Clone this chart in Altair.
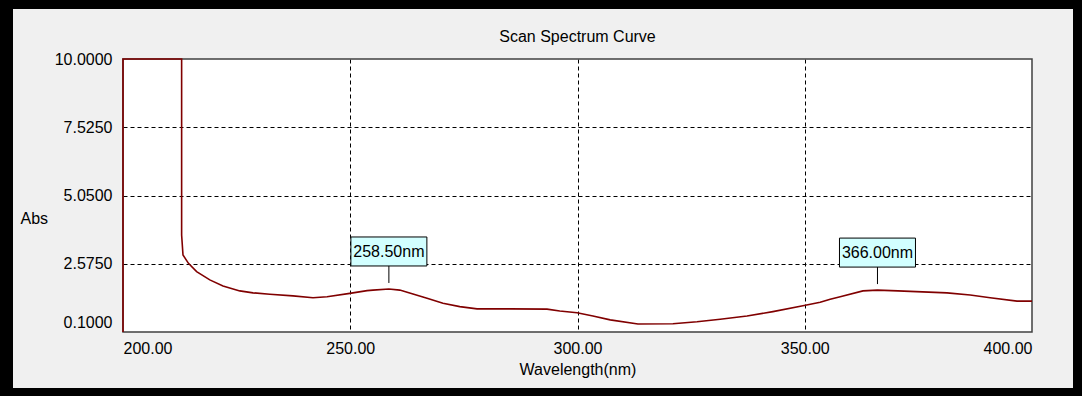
import altair as alt
import pandas as pd

# Scan spectrum: absorbance against wavelength (nm)
wavelength = [200.0, 200.0, 212.9, 212.9, 213.2, 214.4, 216.2, 219.1, 222.0,
              225.7, 228.6, 232.3, 237.4, 241.8, 244.9, 249.9, 253.7, 255.0,
              258.5, 260.9, 263.8, 266.9, 270.4, 274.1, 277.9, 285.1, 293.3,
              296.1, 299.9, 303.4, 307.2, 313.3, 321.0, 326.3, 331.4, 337.3,
              343.0, 349.6, 353.4, 355.6, 357.8, 362.8, 366.0, 370.5, 381.3,
              386.4, 390.8, 396.7, 400.0]
absorbance = [0.10, 10.0, 10.0, 3.62, 2.89, 2.59, 2.29, 1.99, 1.77,
              1.59, 1.52, 1.47, 1.41, 1.34, 1.38, 1.50, 1.60, 1.62,
              1.66, 1.62, 1.48, 1.32, 1.14, 1.02, 0.94, 0.94, 0.93,
              0.86, 0.80, 0.68, 0.54, 0.39, 0.40, 0.47, 0.56, 0.68,
              0.84, 1.05, 1.18, 1.29, 1.38, 1.59, 1.62, 1.59, 1.52,
              1.44, 1.34, 1.22, 1.22]

# Marked peaks
peak_wl = [258.5, 366.0]
peak_abs = [1.66, 1.62]

x_ticks = [200, 250, 300, 350, 400]
y_ticks = [0.1, 2.575, 5.05, 7.525, 10.0]

chart_title = "Scan Spectrum Curve"

FONT = "Liberation Sans"
FS = 16
W, H = 909, 273

curve = pd.DataFrame({"wl": wavelength, "abs": absorbance, "idx": range(len(wavelength))})
peaks = pd.DataFrame({"wl": peak_wl, "abs": peak_abs,
                      "label": [f"{w:.2f}nm" for w in peak_wl]})

x_scale = alt.Scale(domain=[200, 400], nice=False, zero=False)
y_scale = alt.Scale(domain=[0.1, 10.0], nice=False, zero=False)

x_axis = alt.Axis(
    values=x_ticks, format=".2f", title="Wavelength(nm)",
    grid=True, gridDash=[4, 3], gridColor="#000000", gridWidth=1,
    gridOpacity={"condition": {"test": "datum.value == 200 || datum.value == 400", "value": 0}, "value": 1},
    ticks=False, tickSize=0, domain=False, labelPadding=8,
    labelFont=FONT, labelFontSize=FS, labelColor="#000000",
    titleFont=FONT, titleFontSize=FS, titleFontWeight="normal", titleColor="#000000",
    titleY=37, titleBaseline="middle",
)
y_axis = alt.Axis(
    values=y_ticks, format=".4f", title="Abs",
    grid=True, gridDash=[4, 3], gridColor="#000000", gridWidth=1,
    gridOpacity={"condition": {"test": "datum.value < 1 || datum.value > 9.9", "value": 0}, "value": 1},
    ticks=False, tickSize=0, domain=False, labelPadding=11,
    labelOffset={"condition": {"test": "datum.value < 1", "value": -10}, "value": 0},
    labelFont=FONT, labelFontSize=FS, labelColor="#000000",
    titleFont=FONT, titleFontSize=FS, titleFontWeight="normal", titleColor="#000000",
    titleAngle=0, titleX=-103, titleY=159, titleAlign="left", titleBaseline="middle",
)

one = pd.DataFrame({"k": [0]})

# Plot-area border, drawn beneath the curve
border = alt.Chart(one).mark_rect(
    fillOpacity=0, stroke="#404040", strokeWidth=1.5, clip=False,
).encode(x=alt.value(0), x2=alt.value(W), y=alt.value(0), y2=alt.value(H))

line = alt.Chart(curve).mark_line(color="#800000", strokeWidth=1.6, clip=False).encode(
    x=alt.X("wl:Q", scale=x_scale, axis=x_axis),
    y=alt.Y("abs:Q", scale=y_scale, axis=y_axis),
    order="idx:Q",
)

box = alt.Chart(peaks).mark_rect(
    fill="#d2ffff", stroke="#000000", strokeWidth=1,
    xOffset=-38, x2Offset=38, yOffset=-52, y2Offset=-23,
).encode(x="wl:Q", x2="wl:Q", y="abs:Q", y2="abs:Q")

stem = alt.Chart(peaks).mark_rule(
    color="#000000", strokeWidth=1, yOffset=-23, y2Offset=-6,
).encode(x="wl:Q", y="abs:Q", y2="abs:Q")

label = alt.Chart(peaks).mark_text(
    font=FONT, fontSize=FS, color="#000000", baseline="middle", align="center", yOffset=-37,
).encode(x="wl:Q", y="abs:Q", text="label:N")

# Chart heading, centred over the plot area
heading = alt.Chart(one).mark_text(
    text=chart_title, font=FONT, fontSize=FS, color="#000000",
    align="center", baseline="middle",
).encode(x=alt.value(W / 2), y=alt.value(-22))

# Black window frame around the chart
def frame(x1, x2, y1, y2):
    return alt.Chart(one).mark_rect(color="#000000", clip=False).encode(
        x=alt.value(x1), x2=alt.value(x2), y=alt.value(y1), y2=alt.value(y2))

frames = [
    frame(-123, -110, -59, 337),
    frame(950, 959, -59, 337),
    frame(-123, 959, -59, -50),
    frame(-123, 959, 329, 337),
]

chart = alt.layer(border, line, box, stem, label, heading, *frames).properties(
    width=W, height=H,
    background="#f0f0f0",
    padding={"left": 123, "top": 59, "right": 50, "bottom": 64},
    autosize=alt.AutoSizeParams(type="none"),
).configure_view(fill="#ffffff", strokeWidth=0)

chart.save("out.html", embed_options={"renderer": "svg", "actions": False})
